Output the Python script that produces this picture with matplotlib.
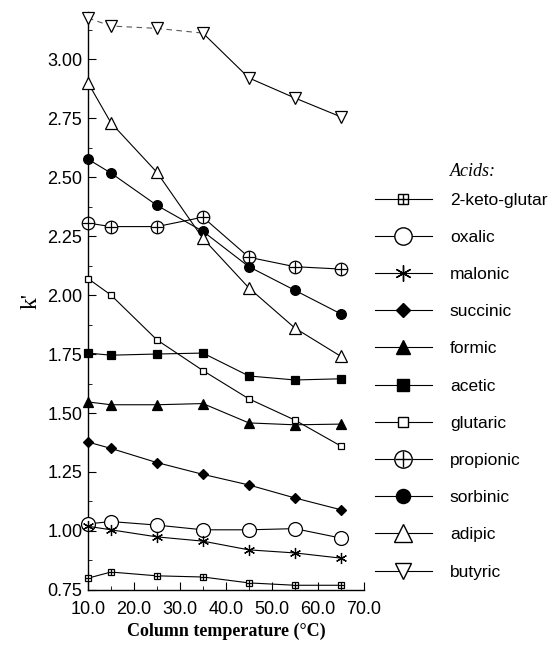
import matplotlib
matplotlib.use("Agg")
import matplotlib.pyplot as plt
from matplotlib.lines import Line2D
from matplotlib.legend_handler import HandlerTuple
from matplotlib.ticker import MultipleLocator

plt.rcParams["font.family"] = ["Liberation Sans", "DejaVu Sans"]

# ---- data ----
temps = [10, 15, 25, 35, 45, 55, 65]

keto_glutaric = [0.80, 0.826, 0.81, 0.805, 0.78, 0.77, 0.77]
oxalic = [1.03, 1.04, 1.025, 1.005, 1.005, 1.01, 0.97]
malonic = [1.02, 1.005, 0.975, 0.957, 0.92, 0.907, 0.885]
succinic = [1.377, 1.35, 1.29, 1.24, 1.195, 1.14, 1.09]
formic = [1.547, 1.535, 1.535, 1.54, 1.458, 1.45, 1.453]
acetic = [1.754, 1.745, 1.75, 1.754, 1.657, 1.64, 1.645]
glutaric = [2.07, 2.00, 1.81, 1.68, 1.56, 1.47, 1.36]
propionic = [2.305, 2.29, 2.29, 2.33, 2.16, 2.12, 2.11]
sorbinic = [2.576, 2.517, 2.38, 2.27, 2.12, 2.02, 1.92]
adipic = [2.90, 2.73, 2.52, 2.24, 2.03, 1.86, 1.74]
butyric = [3.174, 3.14, 3.13, 3.11, 2.92, 2.835, 2.755]

labels = ["2-keto-glutar", "oxalic", "malonic", "succinic", "formic", "acetic",
          "glutaric", "propionic", "sorbinic", "adipic", "butyric"]

xticks = [10, 20, 30, 40, 50, 60, 70]
yticks = [0.75, 1.00, 1.25, 1.50, 1.75, 2.00, 2.25, 2.50, 2.75, 3.00]

ASTER = (6, 2, 0)
# (marker, size in plot, facecolor, overlay marker)
styles = [
    ("s", 5.0, "white", "+"),
    ("o", 10.0, "white", None),
    (ASTER, 8.0, "black", None),
    ("D", 5.0, "black", None),
    ("^", 7.0, "black", None),
    ("s", 6.0, "black", None),
    ("s", 5.0, "white", None),
    ("o", 9.0, "white", "+"),
    ("o", 7.0, "black", None),
    ("^", 8.5, "white", None),
    ("v", 8.0, "white", None),
]
series = [keto_glutaric, oxalic, malonic, succinic, formic, acetic,
          glutaric, propionic, sorbinic, adipic, butyric]

fig = plt.figure(figsize=(5.53, 6.45), dpi=100)
ax = fig.add_axes([0.159, 0.0853, 0.499, 0.8963])

lw = 0.8
for vals, (mk, ms, fc, over), name in zip(series, styles, labels):
    if name == "butyric":
        ax.plot(temps[:4], vals[:4], color="0.35", lw=lw, ls=(0, (5, 4)), zorder=2)
        ax.plot(temps[3:], vals[3:], color="black", lw=lw, zorder=2)
        ax.plot(temps, vals, ls="none", marker=mk, ms=ms, mfc=fc, mec="black",
                mew=0.9, zorder=3, clip_on=False)
    else:
        ax.plot(temps, vals, color="black", lw=lw, marker=mk, ms=ms, mfc=fc,
                mec="black", mew=0.9, zorder=3, clip_on=False)
    if over:
        ax.plot(temps, vals, ls="none", marker=over, ms=ms * 0.95, mec="black",
                mew=0.9, zorder=4, clip_on=False)

ax.set_xlim(10, 70)
ax.set_ylim(0.75, 3.2)
ax.set_xticks(xticks)
ax.set_xticklabels([f"{t:.1f}" for t in xticks])
ax.set_yticks(yticks)
ax.set_yticklabels([f"{t:.2f}" for t in yticks])
ax.xaxis.set_minor_locator(MultipleLocator(5))
ax.yaxis.set_minor_locator(MultipleLocator(0.125))
ax.tick_params(which="major", direction="in", length=6, width=0.8,
               labelsize=13)
ax.tick_params(axis="x", which="major", pad=8)
ax.tick_params(axis="y", which="major", pad=4)
ax.tick_params(which="minor", direction="in", length=3, width=0.6)
for s in ["top", "right"]:
    ax.spines[s].set_visible(False)
for s in ["left", "bottom"]:
    ax.spines[s].set_linewidth(1.0)

ax.set_xlabel("Column temperature (°C)", family="Liberation Serif",
              fontweight="bold", fontsize=13, labelpad=3)
ax.set_ylabel("k'", family="Liberation Serif", fontsize=17, labelpad=4)

# ---- legend ----
handles = []
for (mk, ms, fc, over) in styles:
    big = min(ms * 1.45, 12.5)
    h = Line2D([], [], color="black", lw=lw, marker=mk, ms=big, mfc=fc,
               mec="black", mew=1.0)
    if over:
        h2 = Line2D([], [], ls="none", marker=over, ms=big * 0.95,
                    mec="black", mew=1.0)
        handles.append((h, h2))
    else:
        handles.append(h)

fig.legend(handles, labels, loc="upper left", bbox_to_anchor=(0.678, 0.7015),
           frameon=False, fontsize=12.5, handlelength=3.28, handletextpad=1.04,
           labelspacing=1.27, borderpad=0, borderaxespad=0,
           handler_map={tuple: HandlerTuple(ndivide=1)})
fig.text(450 / 553, 1 - 172 / 645, "Acids:", family="Liberation Serif",
         style="italic", fontsize=13, va="center", ha="left")

fig.savefig("out.png", dpi=100)
